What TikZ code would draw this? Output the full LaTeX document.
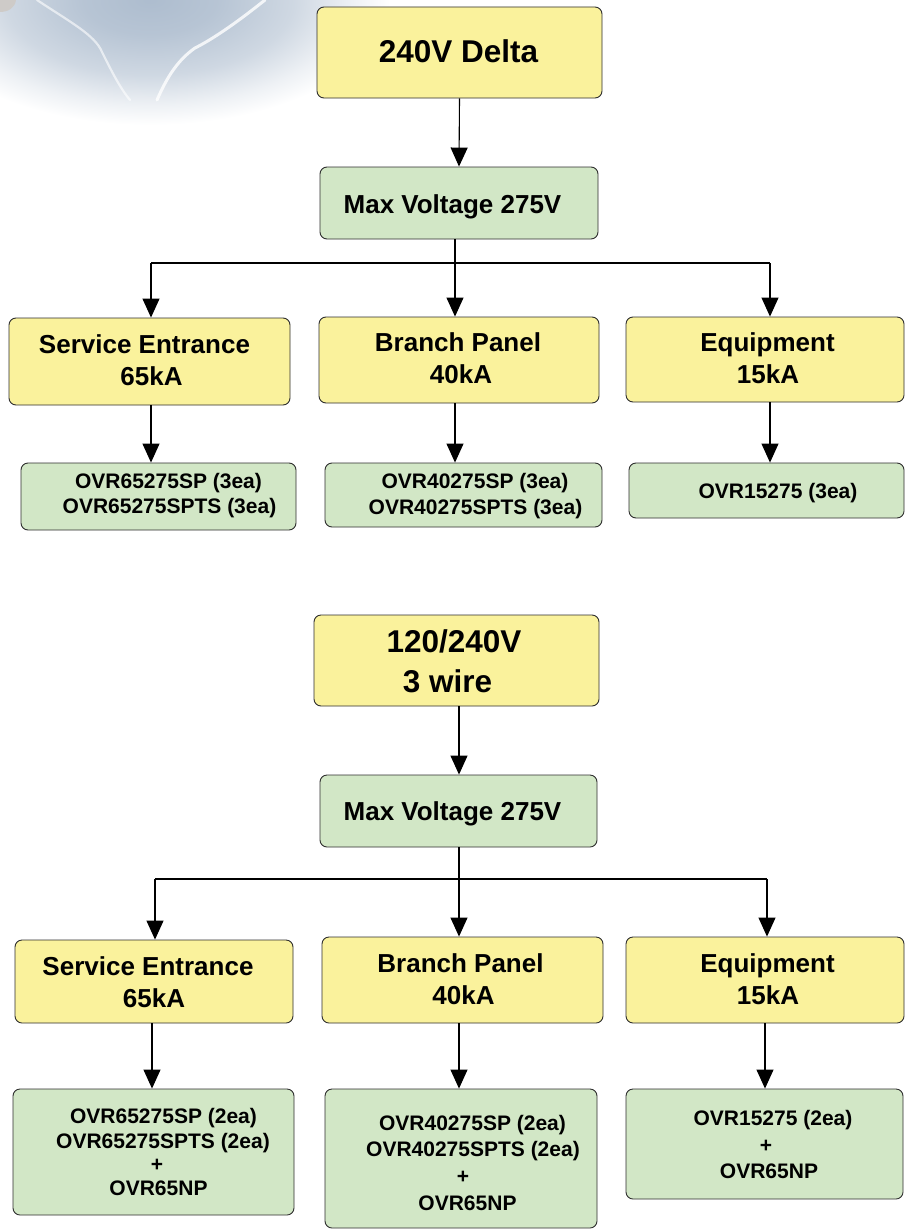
\documentclass[tikz,border=0pt]{standalone}
\usepackage{fontspec}
\setmainfont{Liberation Sans}
\usetikzlibrary{arrows.meta}
\definecolor{ybox}{HTML}{FAF29C}
\definecolor{gbox}{HTML}{D2E7C6}
\definecolor{edgec}{HTML}{2E2E2E}
\definecolor{skyc}{HTML}{9FB1C6}
\pgfdeclareradialshading{skyshade}{\pgfpoint{0bp}{0bp}}{%
  color(0bp)=(skyc!85!white);
  color(7bp)=(skyc!75!white);
  color(15bp)=(skyc!50!white);
  color(21bp)=(skyc!18!white);
  color(25bp)=(white);
  color(50bp)=(white)}
\tikzset{
  boxbase/.style={draw=edgec, line width=0.9pt, rounded corners=7pt, inner sep=0pt},
  yellowbox/.style={boxbase, fill=ybox},
  greenbox/.style={boxbase, fill=gbox},
  conn/.style={draw=black, line width=1.1pt},
  arr/.style={conn, -{Triangle[width=17pt,length=19pt]}},
  tbig/.style={font=\fontsize{31.5}{38}\selectfont\bfseries, anchor=base, inner sep=0pt},
  tmid/.style={font=\fontsize{26}{32}\selectfont\bfseries, anchor=base, inner sep=0pt},
  tsm/.style={font=\fontsize{21}{26}\selectfont\bfseries, anchor=base, inner sep=0pt},
}
\begin{document}
\begin{tikzpicture}[x=1pt,y=-1pt]
\useasboundingbox (0,0) rectangle (905,1231);
\fill[white] (0,0) rectangle (905,1231);
% sky background with lightning (top left)
\begin{scope}
  \clip (0,0) rectangle (400,140);
  \shade[shading=skyshade] (-90,-125) rectangle (390,125);
  \draw[white, opacity=0.6, line width=2.2pt, line cap=round]
    (37,0) .. controls (70,22) and (95,35) .. (102,52) .. controls (112,72) and (120,88) .. (130,100);
  \draw[white, opacity=0.8, line width=3pt, line cap=round]
    (265,0) .. controls (240,20) and (215,38) .. (195,48) .. controls (175,62) and (165,82) .. (157,100);
  \fill[white!80!brown!40!gray!60!white] (0,0) -- (16,0) .. controls (15,8) and (8,12) .. (0,12) -- cycle;
\end{scope}

% ---------------- top diagram ----------------
\node[yellowbox, minimum width=285pt, minimum height=91pt] (d1) at (459.5,52.5) {};
\node[tbig] (d1t) at (458.5,63) {240V Delta};
\node[greenbox, minimum width=278pt, minimum height=72pt] (mv1) at (459,203) {};
\node[tmid] (mv1t) at (452.5,213) {Max Voltage 275V};

\node[yellowbox, minimum width=281pt, minimum height=87pt] (se1) at (149.5,361.5) {};
\node[tmid] (se1a) at (144.5,353) {Service Entrance};
\node[tmid] (se1b) at (151.5,385) {65kA};
\node[yellowbox, minimum width=280pt, minimum height=86pt] (bp1) at (459,360) {};
\node[tmid] (bp1a) at (458,351) {Branch Panel};
\node[tmid] (bp1b) at (461,383) {40kA};
\node[yellowbox, minimum width=278pt, minimum height=85pt] (eq1) at (765,359.5) {};
\node[tmid] (eq1a) at (767.5,351) {Equipment};
\node[tmid] (eq1b) at (768,383) {15kA};

\node[greenbox, minimum width=275pt, minimum height=67pt] (gs1) at (158.5,496.5) {};
\node[tsm] (gs1a) at (168.5,488) {OVR65275SP (3ea)};
\node[tsm] (gs1b) at (169.5,513) {OVR65275SPTS (3ea)};
\node[greenbox, minimum width=277pt, minimum height=64pt] (gb1) at (463.5,495) {};
\node[tsm] (gb1a) at (475,488) {OVR40275SP (3ea)};
\node[tsm] (gb1b) at (475.5,514) {OVR40275SPTS (3ea)};
\node[greenbox, minimum width=275pt, minimum height=55pt] (ge1) at (766.5,490.5) {};
\node[tsm] (ge1a) at (778,498) {OVR15275 (3ea)};

\coordinate (j1) at (455,263);
\coordinate (jl1) at (151,263);
\coordinate (jr1) at (770,263);
\draw[arr] (d1.south) -- (mv1.north);
\draw[arr] (j1 |- mv1.south) -- (j1 |- bp1.north);
\draw[conn] (jl1) -- (jr1);
\draw[arr] (jl1) -- (jl1 |- se1.north);
\draw[arr] (jr1) -- (jr1 |- eq1.north);
\draw[arr] (jl1 |- se1.south) -- (jl1 |- gs1.north);
\draw[arr] (j1 |- bp1.south) -- (j1 |- gb1.north);
\draw[arr] (jr1 |- eq1.south) -- (jr1 |- ge1.north);

% ---------------- bottom diagram ----------------
\node[yellowbox, minimum width=285pt, minimum height=91pt] (d2) at (456.5,660.5) {};
\node[tbig] (d2a) at (454,652) {120/240V};
\node[tbig] (d2b) at (447.5,692) {3 wire};
\node[greenbox, minimum width=277pt, minimum height=72pt] (mv2) at (458.5,811) {};
\node[tmid] (mv2t) at (452.5,820) {Max Voltage 275V};

\node[yellowbox, minimum width=278pt, minimum height=83pt] (se2) at (154,981.5) {};
\node[tmid] (se2a) at (148,975) {Service Entrance};
\node[tmid] (se2b) at (154,1007) {65kA};
\node[yellowbox, minimum width=281pt, minimum height=86pt] (bp2) at (462.5,980) {};
\node[tmid] (bp2a) at (460.5,972) {Branch Panel};
\node[tmid] (bp2b) at (463.5,1004) {40kA};
\node[yellowbox, minimum width=278pt, minimum height=86pt] (eq2) at (765,980) {};
\node[tmid] (eq2a) at (767.5,972) {Equipment};
\node[tmid] (eq2b) at (768,1004) {15kA};

\node[greenbox, minimum width=281pt, minimum height=126pt] (gs2) at (153.5,1152) {};
\node[tsm] (gs2a) at (163.5,1123) {OVR65275SP (2ea)};
\node[tsm] (gs2b) at (163,1148) {OVR65275SPTS (2ea)};
\node[tsm] (gs2c) at (157,1171.5) {+};
\node[tsm] (gs2d) at (158.5,1195) {OVR65NP};
\node[greenbox, minimum width=272pt, minimum height=139pt] (gb2) at (461,1158.5) {};
\node[tsm] (gb2a) at (472.5,1130) {OVR40275SP (2ea)};
\node[tsm] (gb2b) at (473,1156.5) {OVR40275SPTS (2ea)};
\node[tsm] (gb2c) at (463,1183.5) {+};
\node[tsm] (gb2d) at (467.5,1210) {OVR65NP};
\node[greenbox, minimum width=277pt, minimum height=110pt] (ge2) at (764.5,1144) {};
\node[tsm] (ge2a) at (773,1125) {OVR15275 (2ea)};
\node[tsm] (ge2b) at (766,1152) {+};
\node[tsm] (ge2c) at (769,1178) {OVR65NP};

\coordinate (j2) at (459,879);
\coordinate (jl2) at (155,879);
\coordinate (jr2) at (767,879);
\coordinate (sl2) at (152,879);
\coordinate (sr2) at (765,879);
\draw[arr] (d2.south -| j2) -- (mv2.north -| j2);
\draw[arr] (j2 |- mv2.south) -- (j2 |- bp2.north);
\draw[conn] (jl2) -- (jr2);
\draw[arr] (jl2) -- (jl2 |- se2.north);
\draw[arr] (jr2) -- (jr2 |- eq2.north);
\draw[arr] (sl2 |- se2.south) -- (sl2 |- gs2.north);
\draw[arr] (j2 |- bp2.south) -- (j2 |- gb2.north);
\draw[arr] (sr2 |- eq2.south) -- (sr2 |- ge2.north);
\end{tikzpicture}
\end{document}
